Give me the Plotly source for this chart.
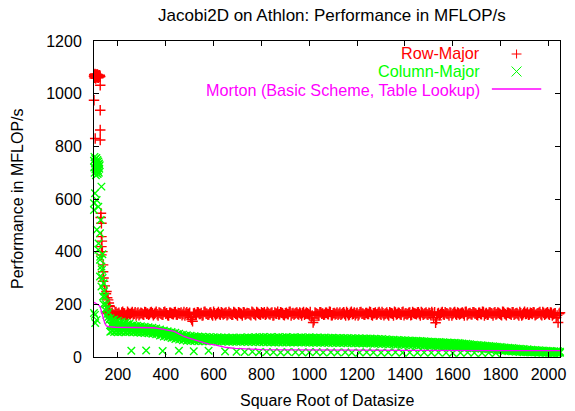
import plotly.graph_objects as go

# ---------------- data ----------------
# Row-Major: small sizes (steep region)
row_x_small = [100, 101, 102, 103, 104, 105, 106, 107, 108, 109, 110, 111, 112, 113, 114, 115,
               116, 117, 118, 119, 120, 122, 124, 126,
               126, 100, 126, 126, 105, 126,
               128, 129, 131, 131, 133, 131, 135, 131, 138, 138, 140, 138, 145, 150, 152, 155,
               159, 162, 164, 166, 150, 155, 160, 163]
row_y_small = [1066, 1072, 1060, 1070, 1075, 1063, 1068, 1058, 1073, 1065, 1070, 1062, 1067, 1074, 1061, 1069,
               1064, 1071, 1060, 1066, 1068, 1063, 1070, 1065,
               1032, 975, 937, 862, 830, 824,
               530, 546, 508, 457, 440, 419, 400, 388, 350, 324, 300, 287, 270, 240, 249, 225,
               217, 205, 195, 192, 172, 168, 165, 170]
row_x_fringe = [176, 192, 216, 240]
row_y_fringe = [150, 152, 148, 153]

# two interleaved size grids for the long flat part
band_x = [168, 176, 184, 192, 200, 208, 216, 224, 232, 240, 248, 256, 264, 272, 280, 288, 296, 304, 312, 320,
          328, 336, 344, 352, 360, 368, 376, 384, 392, 400, 408, 416, 424, 432, 440, 448, 456, 464, 472, 480,
          488, 496, 504, 512, 520, 528, 536, 544, 552, 560, 568, 576, 584, 592, 600, 608, 616, 624, 632, 640,
          648, 656, 664, 672, 680, 688, 696, 704, 712, 720, 728, 736, 744, 752, 760, 768, 776, 784, 792, 800,
          808, 816, 824, 832, 840, 848, 856, 864, 872, 880, 888, 896, 904, 912, 920, 928, 936, 944, 952, 960,
          968, 976, 984, 992, 1000, 1008, 1016, 1024, 1032, 1040, 1048, 1056, 1064, 1072, 1080, 1088, 1096, 1104, 1112, 1120,
          1128, 1136, 1144, 1152, 1160, 1168, 1176, 1184, 1192, 1200, 1208, 1216, 1224, 1232, 1240, 1248, 1256, 1264, 1272, 1280,
          1288, 1296, 1304, 1312, 1320, 1328, 1336, 1344, 1352, 1360, 1368, 1376, 1384, 1392, 1400, 1408, 1416, 1424, 1432, 1440,
          1448, 1456, 1464, 1472, 1480, 1488, 1496, 1504, 1512, 1520, 1528, 1536, 1544, 1552, 1560, 1568, 1576, 1584, 1592, 1600,
          1608, 1616, 1624, 1632, 1640, 1648, 1656, 1664, 1672, 1680, 1688, 1696, 1704, 1712, 1720, 1728, 1736, 1744, 1752, 1760,
          1768, 1776, 1784, 1792, 1800, 1808, 1816, 1824, 1832, 1840, 1848, 1856, 1864, 1872, 1880, 1888, 1896, 1904, 1912, 1920,
          1928, 1936, 1944, 1952, 1960, 1968, 1976, 1984, 1992, 2000, 2008, 2016, 2024, 2032, 2040, 2048]
band_x2 = [172, 180, 188, 196, 204, 212, 220, 228, 236, 244, 252, 260, 268, 276, 284, 292, 300, 308, 316, 324,
           332, 340, 348, 356, 364, 372, 380, 388, 396, 404, 412, 420, 428, 436, 444, 452, 460, 468, 476, 484,
           492, 500, 508, 516, 524, 532, 540, 548, 556, 564, 572, 580, 588, 596, 604, 612, 620, 628, 636, 644,
           652, 660, 668, 676, 684, 692, 700, 708, 716, 724, 732, 740, 748, 756, 764, 772, 780, 788, 796, 804,
           812, 820, 828, 836, 844, 852, 860, 868, 876, 884, 892, 900, 908, 916, 924, 932, 940, 948, 956, 964,
           972, 980, 988, 996, 1004, 1012, 1020, 1028, 1036, 1044, 1052, 1060, 1068, 1076, 1084, 1092, 1100, 1108, 1116, 1124,
           1132, 1140, 1148, 1156, 1164, 1172, 1180, 1188, 1196, 1204, 1212, 1220, 1228, 1236, 1244, 1252, 1260, 1268, 1276, 1284,
           1292, 1300, 1308, 1316, 1324, 1332, 1340, 1348, 1356, 1364, 1372, 1380, 1388, 1396, 1404, 1412, 1420, 1428, 1436, 1444,
           1452, 1460, 1468, 1476, 1484, 1492, 1500, 1508, 1516, 1524, 1532, 1540, 1548, 1556, 1564, 1572, 1580, 1588, 1596, 1604,
           1612, 1620, 1628, 1636, 1644, 1652, 1660, 1668, 1676, 1684, 1692, 1700, 1708, 1716, 1724, 1732, 1740, 1748, 1756, 1764,
           1772, 1780, 1788, 1796, 1804, 1812, 1820, 1828, 1836, 1844, 1852, 1860, 1868, 1876, 1884, 1892, 1900, 1908, 1916, 1924,
           1932, 1940, 1948, 1956, 1964, 1972, 1980, 1988, 1996, 2004, 2012, 2020, 2028, 2036, 2044]

row_band = [162, 168, 159, 171, 164, 160, 169, 166, 158, 172, 163, 167, 161, 170, 165, 159, 168, 162, 171, 164,
            160, 169, 166, 163, 172, 158, 167, 161, 170, 164, 159, 168, 165, 162, 171, 160, 166, 169, 163, 158,
            170, 164, 150, 136, 167, 161, 169, 163, 158, 171, 165, 160, 168, 162, 172, 159, 166, 163, 170, 161,
            167, 159, 171, 164, 160, 168, 162, 170, 165, 158, 169, 163, 166, 161, 172, 164, 159, 168, 162, 170,
            165, 160, 171, 163, 167, 158, 169, 164, 161, 170, 166, 159, 168, 162, 172, 165, 160, 167, 163, 169,
            158, 171, 164, 166, 160, 148, 131, 169, 163, 158, 170, 165, 161, 168, 162, 171, 159, 167, 164, 160,
            169, 163, 170, 158, 166, 161, 172, 164, 159, 168, 162, 171, 165, 160, 167, 163, 170, 158, 166, 161,
            168, 164, 171, 159, 165, 162, 170, 166, 158, 169, 163, 167, 160, 172, 164, 161, 168, 159, 171, 165,
            162, 170, 158, 167, 163, 169, 160, 166, 171, 149, 130, 164, 159, 168, 162, 170, 165, 158, 167, 163,
            171, 160, 166, 164, 169, 158, 172, 163, 167, 161, 170, 165, 159, 168, 162, 171, 164, 160, 169, 166,
            158, 170, 163, 167, 161, 172, 165, 159, 168, 164, 170, 160, 166, 162, 171, 158, 167, 163, 169, 161,
            166, 170, 159, 164, 168, 162, 171, 160, 167, 163, 169, 158, 165, 150, 131, 168]
row_band2 = [166, 161, 170, 163, 168, 159, 172, 165, 160, 167, 162, 171, 164, 158, 169, 163, 166, 160, 170, 165,
             163, 171, 159, 167, 162, 169, 164, 160, 172, 166, 158, 168, 163, 170, 161, 167, 164, 159, 171, 165,
             162, 168, 142, 165, 160, 170, 163, 167, 159, 172, 164, 161, 169, 158, 166, 163, 171, 160, 167, 164,
             169, 162, 166, 160, 171, 164, 158, 168, 163, 170, 161, 167, 165, 159, 169, 162, 171, 164, 160, 166,
             170, 163, 167, 161, 169, 159, 165, 172, 162, 168, 160, 166, 163, 171, 158, 167, 164, 169, 161, 165,
             167, 160, 169, 163, 171, 158, 140, 166, 162, 170, 164, 160, 168, 163, 172, 159, 166, 161, 169, 164,
             160, 167, 163, 171, 159, 168, 162, 169, 165, 158, 170, 164, 161, 167, 163, 172, 160, 166, 169, 162,
             171, 160, 166, 163, 169, 158, 167, 164, 172, 161, 168, 162, 170, 159, 166, 163, 169, 160, 167, 164,
             169, 163, 171, 160, 166, 162, 168, 159, 165, 170, 141, 167, 162, 171, 160, 166, 163, 169, 158, 168,
             163, 169, 161, 167, 164, 171, 159, 166, 162, 170, 165, 160, 168, 163, 172, 158, 167, 161, 169, 164,
             167, 161, 169, 164, 159, 171, 162, 168, 165, 160, 170, 163, 167, 158, 166, 161, 172, 164, 160, 168,
             163, 169, 161, 166, 171, 159, 167, 164, 170, 160, 168, 162, 166, 158, 164]

# Column-Major: small sizes
col_x_small = [100, 101, 102, 103, 104, 105, 106, 107, 108, 109, 110, 111, 112, 113, 114, 115,
               116, 117, 118, 119, 120, 121, 122, 124,
               131, 104, 111, 100, 118, 100, 128, 112, 125, 119, 118, 126, 135, 125, 131, 133,
               136, 125, 131, 140, 142, 138, 147, 140, 150, 145, 155, 100, 104, 160, 152, 111,
               158, 162, 105]
col_y_small = [745, 720, 760, 700, 735, 752, 712, 740, 690, 728, 756, 705, 738, 718, 748, 695,
               730, 708, 742, 722, 700, 735, 715, 728,
               647, 622, 596, 584, 571, 558, 520, 483, 470, 431, 407, 381, 390, 369, 344, 331,
               300, 306, 268, 280, 250, 230, 230, 200, 200, 179, 185, 167, 160, 170, 160, 141,
               150, 140, 129]

col_hi = [147, 141, 142, 135, 138, 131, 134, 128, 130, 124, 126, 119, 122, 117, 119, 114, 117, 112, 115, 110,
          113, 108, 111, 106, 108, 101, 104, 98, 101, 95, 98, 92, 95, 89, 92, 86, 88, 83, 85, 80,
          83, 78, 81, 76, 79, 75, 78, 74, 77, 73, 76, 72, 76, 72, 75, 71, 75, 71, 74, 70,
          74, 70, 73, 71, 74, 70, 73, 71, 74, 70, 73, 71, 75, 71, 74, 72, 75, 72, 76, 73,
          76, 72, 75, 73, 76, 72, 74, 73, 76, 72, 75, 73, 76, 72, 74, 73, 75, 72, 74, 73,
          75, 71, 74, 72, 75, 71, 74, 72, 74, 70, 73, 71, 74, 70, 73, 71, 73, 70, 72, 70,
          72, 69, 72, 70, 72, 69, 71, 69, 71, 68, 71, 68, 70, 68, 70, 67, 70, 67, 69, 67,
          68, 66, 68, 65, 67, 65, 66, 64, 66, 63, 65, 63, 64, 62, 64, 61, 63, 61, 62, 60,
          62, 60, 61, 59, 60, 58, 59, 57, 58, 56, 57, 56, 57, 55, 56, 54, 55, 53, 54, 52,
          54, 52, 53, 51, 51, 49, 50, 48, 48, 46, 47, 45, 46, 44, 45, 43, 43, 41, 42, 40,
          41, 39, 39, 37, 38, 36, 36, 34, 35, 33, 34, 32, 32, 30, 31, 29, 30, 28, 29, 27,
          28, 26, 27, 25, 26, 24, 25, 23, 24, 22, 23, 21, 22, 21, 22, 20]

col_lo = [96, 99, 95, 98, 94, 97, 95, 98, 94, 97, 95, 98, 94, 97, 93, 96, 92, 95, 91, 94,
          90, 93, 88, 91, 86, 88, 82, 84, 78, 81, 76, 78, 72, 74, 68, 71, 66, 69, 64, 67,
          62, 66, 61, 65, 61, 64, 60, 64, 60, 64, 60, 64, 60, 63, 60, 63, 59, 63, 59, 63,
          59, 62, 58, 62, 58, 62, 58, 61, 58, 61, 58, 61, 57, 61, 57, 61, 57, 60, 56, 60,
          56, 60, 56, 59, 56, 59, 55, 59, 55, 59, 55, 59, 55, 58, 55, 58, 55, 58, 55, 58,
          55, 58, 55, 58, 54, 58, 54, 57, 54, 57, 54, 57, 54, 57, 53, 57, 53, 56, 53, 56,
          53, 56, 53, 56, 52, 56, 52, 55, 52, 55, 52, 55, 51, 55, 51, 54, 51, 54, 50, 54,
          50, 53, 49, 53, 49, 52, 48, 52, 48, 51, 47, 51, 47, 50, 46, 50, 46, 49, 45, 49,
          45, 48, 45, 47, 44, 47, 43, 46, 43, 45, 42, 45, 41, 44, 41, 43, 40, 43, 39, 42,
          38, 41, 37, 40, 36, 39, 35, 38, 34, 37, 33, 36, 32, 35, 31, 34, 30, 33, 29, 32,
          28, 30, 26, 29, 25, 27, 23, 26, 22, 25, 21, 23, 20, 22, 19, 21, 18, 20, 18, 19,
          17, 19, 17, 18, 16, 18, 16, 18, 16, 17, 16, 17, 15, 17, 15, 16]

col_mid2 = [121, 118, 119, 116, 117, 114, 115, 113, 114, 111, 112, 110, 111, 108, 110, 107, 108, 106, 107, 104,
            102, 100, 99, 97, 96, 94, 93, 90, 89, 87, 86, 84, 83, 80, 80, 78, 77, 75, 75, 73,
            73, 70, 72, 69, 71, 68, 70, 67, 69, 67, 69, 66, 68, 66, 68, 66, 67, 65, 67, 65,
            67, 65, 66, 64, 67, 65, 66, 64, 67, 65, 66, 64, 67, 65, 66, 65, 67, 65, 67, 66,
            67, 65, 66, 64, 67, 65, 66, 64, 67, 65, 66, 64, 67, 65, 66, 64, 67, 65, 66, 64,
            66, 64, 66, 63, 66, 64, 65, 63, 65, 63, 65, 63, 64, 62, 64, 62, 64, 62, 63, 61,
            63, 61, 63, 61, 62, 60, 62, 60, 62, 60, 61, 59, 61, 59, 61, 59, 60, 58, 60, 58,
            59, 57, 59, 57, 58, 56, 58, 56, 57, 55, 56, 54, 56, 54, 55, 53, 54, 52, 53, 51,
            53, 51, 52, 50, 52, 50, 51, 49, 50, 48, 49, 47, 48, 46, 48, 46, 47, 45, 46, 44,
            45, 43, 44, 42, 43, 41, 41, 39, 40, 38, 39, 37, 37, 35, 36, 34, 35, 33, 33, 31,
            32, 30, 31, 29, 29, 27, 28, 26, 27, 25, 26, 24, 25, 23, 24, 22, 23, 21, 22, 21,
            21, 20, 21, 19, 20, 19, 20, 18, 19, 18, 19, 17, 18, 17, 18]

col_mid_x = [168, 176, 184, 192, 200, 208, 216, 224, 232, 240, 248, 256, 264, 272, 280, 288, 296, 304, 312, 320,
             328, 336, 344, 352, 360, 368, 376, 384, 392, 400, 408, 416, 424, 432]
col_mid = [122, 118, 123, 117, 119, 114, 118, 113, 116, 111, 114, 109, 112, 107, 110, 105, 108, 104, 106, 102,
           104, 100, 103, 98, 101, 96, 99, 94, 97, 92, 94, 89, 91, 86]

col_low_x = [256, 318, 387, 455, 517, 579, 648, 696, 730, 762, 790, 822, 850, 880, 910, 942, 970, 1000, 1030, 1058,
             1090, 1118, 1150, 1178, 1210, 1240, 1268, 1300, 1330, 1360, 1390, 1420, 1452, 1480, 1510, 1540, 1572,
             1600, 1632, 1662, 1690, 1722, 1750, 1780]
col_low_y = [24, 25, 23, 24, 22, 24, 21, 20, 19, 20, 18, 19, 18, 17, 19, 18, 17, 18, 19, 17,
             18, 17, 18, 16, 17, 18, 17, 16, 17, 18, 16, 17, 16, 17, 16, 17, 16, 15, 16, 17, 16, 15, 16, 15]

# Morton (Basic Scheme, Table Lookup)
morton_x = [100, 110, 120, 126, 132, 138, 145, 152, 160, 188, 250, 311, 350, 380, 410, 435, 455, 476, 497, 517,
            538, 558, 580, 600, 627, 654, 690, 723, 760, 800, 900, 1000, 1200, 1400, 1600, 1800, 2048]
morton_y = [208, 204, 197, 190, 172, 150, 128, 118, 115, 113, 113, 113, 111, 107, 102, 97, 88, 78, 72, 66,
            59, 53, 49, 47, 41, 36, 33, 31, 29, 28, 27, 26, 26, 25, 25, 24, 24]

x_ticks = [200, 400, 600, 800, 1000, 1200, 1400, 1600, 1800, 2000]
y_ticks = [0, 200, 400, 600, 800, 1000, 1200]

series_names = ["Row-Major", "Column-Major", "Morton (Basic Scheme, Table Lookup)"]

# ---------------- styling ----------------
RED, GREEN, MAGENTA = "#ff0000", "#00ff00", "#ff00ff"
FONT = "Liberation Sans, Arial, Helvetica, sans-serif"
FS = 16
W, H = 575, 411
L, R, T, B = 94, 9, 41, 54

fig = go.Figure()

row_x = row_x_small + row_x_fringe + band_x + band_x2
row_y = row_y_small + row_y_fringe + row_band + row_band2
fig.add_trace(go.Scatter(
    x=row_x, y=row_y, mode="markers", name=series_names[0], cliponaxis=False,
    marker=dict(symbol="cross-thin", size=7.5, color=RED, line=dict(color=RED, width=1.4))))

col_x = col_x_small + band_x + band_x + band_x2 + col_mid_x + col_low_x
col_y = col_y_small + col_hi + col_lo + col_mid2 + col_mid + col_low_y
fig.add_trace(go.Scatter(
    x=col_x, y=col_y, mode="markers", name=series_names[1], cliponaxis=False,
    marker=dict(symbol="x-thin", size=7.5, color=GREEN, line=dict(color=GREEN, width=1.4))))

fig.add_trace(go.Scatter(
    x=morton_x, y=morton_y, mode="lines", name=series_names[2],
    line=dict(color=MAGENTA, width=1.3)))

pw, ph = W - L - R, H - T - B


def px(xp):
    return (xp - L) / pw


def py(yp):
    return (H - B - yp) / ph


axis_common = dict(showline=True, linecolor="black", linewidth=1, mirror="allticks",
                   ticks="inside", ticklen=5, tickwidth=1, tickcolor="black",
                   showgrid=False, zeroline=False,
                   tickfont=dict(family=FONT, size=FS, color="black"))

fig.update_xaxes(range=[100, 2048], tickvals=x_ticks, ticktext=[str(v) for v in x_ticks],
                 ticklabelstandoff=3, **axis_common)
fig.update_yaxes(range=[0, 1200], tickvals=y_ticks, ticktext=[str(v) for v in y_ticks],
                 ticklabelstandoff=8, **axis_common)

annotations = [
    dict(text="Square Root of Datasize", xref="paper", yref="paper", x=0.5, y=0,
         yshift=-43, xanchor="center", yanchor="middle", showarrow=False,
         font=dict(family=FONT, size=FS, color="black")),
    dict(text="Performance in MFLOP/s", xref="paper", yref="paper", x=0, y=0.5,
         xshift=17 - L, xanchor="center", yanchor="middle", textangle=-90, showarrow=False,
         font=dict(family=FONT, size=FS, color="black")),
]
legend_rows = [(53, RED), (71.5, GREEN), (90, MAGENTA)]
for name, (yy, col) in zip(series_names, legend_rows):
    annotations.append(dict(text=name, xref="paper", yref="paper", x=px(487), y=py(yy),
                            xanchor="right", yanchor="middle", showarrow=False,
                            font=dict(family=FONT, size=16.2, color=col)))

shapes = []
kx = 522
# "+" key
shapes.append(dict(type="line", xref="paper", yref="paper", x0=px(kx - 5), x1=px(kx + 5),
                   y0=py(54), y1=py(54), line=dict(color=RED, width=1)))
shapes.append(dict(type="line", xref="paper", yref="paper", x0=px(kx), x1=px(kx),
                   y0=py(49.5), y1=py(58.5), line=dict(color=RED, width=1)))
# "x" key
shapes.append(dict(type="line", xref="paper", yref="paper", x0=px(kx - 5), x1=px(kx + 5),
                   y0=py(66.5), y1=py(76.5), line=dict(color=GREEN, width=1)))
shapes.append(dict(type="line", xref="paper", yref="paper", x0=px(kx - 5), x1=px(kx + 5),
                   y0=py(76.5), y1=py(66.5), line=dict(color=GREEN, width=1)))
# line key
shapes.append(dict(type="line", xref="paper", yref="paper", x0=px(497), x1=px(547),
                   y0=py(89), y1=py(89), line=dict(color=MAGENTA, width=1.3)))

fig.update_layout(
    width=W, height=H, margin=dict(l=L, r=R, t=T, b=B),
    paper_bgcolor="white", plot_bgcolor="white", showlegend=False,
    title=dict(text="Jacobi2D on Athlon: Performance in MFLOP/s", x=px(335), xref="paper",
               y=1 - 15 / H, yref="container", xanchor="center", yanchor="middle",
               font=dict(family=FONT, size=17, color="black")),
    annotations=annotations, shapes=shapes,
)

fig.write_html("out.html", config={"displayModeBar": False},
               post_script="document.body.style.margin='0';document.body.style.overflow='hidden';")
